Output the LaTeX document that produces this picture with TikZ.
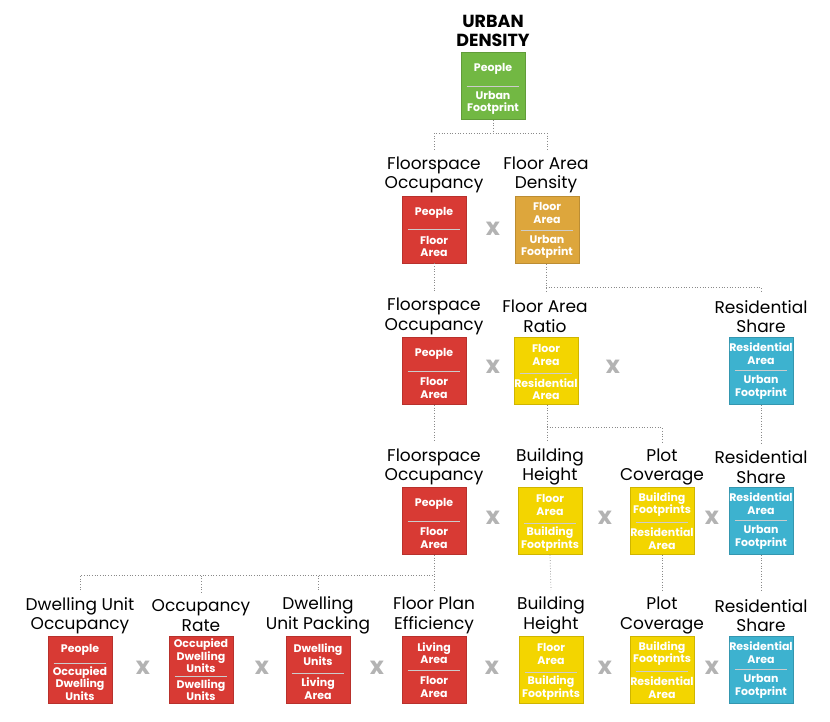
\documentclass[tikz,border=0pt]{standalone}
\usepackage{fontspec}
\setmainfont{Poppins}
\usetikzlibrary{calc}
\definecolor{cgreen}{HTML}{72B843}
\definecolor{cred}{HTML}{D83A34}
\definecolor{corange}{HTML}{DDA63C}
\definecolor{cyellow}{HTML}{F3D500}
\definecolor{cblue}{HTML}{3DB2CF}
\definecolor{cx}{HTML}{B3B3B3}
\definecolor{cline}{HTML}{8A8A8A}
\tikzset{
  rbox/.style={minimum width=64pt, minimum height=67pt, inner sep=0pt, draw=#1!85!black, line width=0.6pt, fill=#1},
  btxt/.style={text=white, font=\bfseries\fontsize{11}{12.5}\selectfont, align=center, inner sep=0pt},
  ttl/.style={font=\fontsize{17}{19.5}\selectfont, align=center, inner sep=0pt, outer sep=7pt},
  times/.style={text=cx, font=\bfseries\fontsize{24}{24}\selectfont, inner sep=0pt},
  conn/.style={draw=cline, dotted, line width=0.7pt},
  divl/.style={draw=white!80!black, line width=0.5pt}
}
\newcommand\ratiobox[7]{%
  \node[rbox=#4] (#1) at (#2,#3) {};
  \path (#1.center) ++(0,#7) coordinate (#1-d);
  \draw[divl] ([xshift=6pt]#1.west |- #1-d) -- ([xshift=-6pt]#1.east |- #1-d);
  \node[btxt] (#1-t) at ($(#1.north)!0.5!(#1-d)$) {#5};
  \node[btxt] (#1-b) at ($(#1-d)!0.5!(#1.south)$) {#6};
}
\begin{document}
\begin{tikzpicture}[x=1pt,y=-1pt]
\useasboundingbox[fill=white] (0,0) rectangle (830,721);
% level 1
\node[ttl, font=\bfseries\fontsize{17.5}{18.5}\selectfont] (t1) at (493,31) {URBAN\\DENSITY};
\ratiobox{g}{493}{86}{cgreen}{People}{Urban\\Footprint}{0}
% level 2
\node[ttl] (t2a) at (434,175) {Floorspace\\Occupancy};
\node[ttl] (t2b) at (546,175) {Floor Area\\Density};
\ratiobox{r2}{434}{229.5}{cred}{People}{Floor\\Area}{0}
\ratiobox{o2}{547}{230}{corange}{Floor\\Area}{Urban\\Footprint}{0}
\node[times] (x2) at (493,229) {x};
% level 3
\node[ttl] (t3a) at (434,316.5) {Floorspace\\Occupancy};
\node[ttl] (t3b) at (545,316.5) {Floor Area\\Ratio};
\node[ttl] (t3c) at (761,316.5) {Residential\\Share};
\ratiobox{r3}{434}{371}{cred}{People}{Floor\\Area}{0}
\ratiobox{y3}{546}{371}{cyellow}{Floor\\Area}{Residential\\Area}{2}
\ratiobox{b3}{761}{371}{cblue}{Residential\\Area}{Urban\\Footprint}{-1}
\node[times] (x3a) at (493,367) {x};
\node[times] (x3b) at (613,367) {x};
% level 4
\node[ttl] (t4a) at (434,467) {Floorspace\\Occupancy};
\node[ttl] (t4b) at (550,467) {Building\\Height};
\node[ttl] (t4c) at (662,467) {Plot\\Coverage};
\node[ttl] (t4d) at (761,467) {Residential\\Share};
\ratiobox{r4}{434}{521}{cred}{People}{Floor\\Area}{0}
\ratiobox{y4}{550}{521}{cyellow}{Floor\\Area}{Building\\Footprints}{2}
\ratiobox{p4}{662}{521}{cyellow}{Building\\Footprints}{Residential\\Area}{1}
\ratiobox{b4}{761}{521}{cblue}{Residential\\Area}{Urban\\Footprint}{-1}
\node[times] (x4a) at (493,518) {x};
\node[times] (x4b) at (605,518) {x};
\node[times] (x4c) at (712,518) {x};
% level 5
\node[ttl] (t5a) at (80,615.5) {Dwelling Unit\\Occupancy};
\node[ttl] (t5b) at (201,615.5) {Occupancy\\Rate};
\node[ttl] (t5c) at (318,615.5) {Dwelling\\Unit Packing};
\node[ttl] (t5d) at (434,615.5) {Floor Plan\\Efficiency};
\node[ttl] (t5e) at (551,615.5) {Building\\Height};
\node[ttl] (t5f) at (662,615.5) {Plot\\Coverage};
\node[ttl] (t5g) at (761,615.5) {Residential\\Share};
\ratiobox{a5}{80}{670}{cred}{People}{Occupied\\Dwelling\\Units}{-7}
\ratiobox{c5}{201}{670}{cred}{Occupied\\Dwelling\\Units}{Dwelling\\Units}{6}
\ratiobox{d5}{318}{670}{cred}{Dwelling\\Units}{Living\\Area}{3}
\ratiobox{e5}{434}{670}{cred}{Living\\Area}{Floor\\Area}{0}
\ratiobox{f5}{551}{670}{cyellow}{Floor\\Area}{Building\\Footprints}{2}
\ratiobox{h5}{662}{670}{cyellow}{Building\\Footprints}{Residential\\Area}{1}
\ratiobox{k5}{761}{670}{cblue}{Residential\\Area}{Urban\\Footprint}{-1}
\node[times] (x5a) at (143,668) {x};
\node[times] (x5b) at (262,668) {x};
\node[times] (x5c) at (377,668) {x};
\node[times] (x5d) at (492,668) {x};
\node[times] (x5e) at (605,668) {x};
\node[times] (x5f) at (712,668) {x};
% connectors
\coordinate (j1) at (493,133);
\draw[conn] (g.south) -- (j1);
\draw[conn] (t2a.north) |- (j1) -| (o2.north |- t2b.north);
\draw[conn] (r2.south) -- (t3a.north);
\coordinate (j2) at (546,287);
\draw[conn] (o2.south -| j2) -- (t3b.north -| j2);
\draw[conn] (j2) -| (t3c.north);
\draw[conn] (r3.south) -- (t4a.north);
\draw[conn] (b3.south) -- (t4d.north);
\coordinate (j3) at (547,427);
\draw[conn] (y3.south -| j3) -- (t4b.north -| j3);
\draw[conn] (j3) -| (t4c.north);
\coordinate (j4) at (434,575);
\draw[conn] (r4.south) -- (t5d.north);
\draw[conn] (t5a.north) |- (j4);
\draw[conn] (t5b.north) -- (t5b.north |- j4);
\draw[conn] (t5c.north) -- (t5c.north |- j4);
\draw[conn] (y4.south) -- (t5e.north);
\draw[conn] (p4.south) -- (t5f.north);
\draw[conn] (b4.south) -- (t5g.north);
\end{tikzpicture}
\end{document}
